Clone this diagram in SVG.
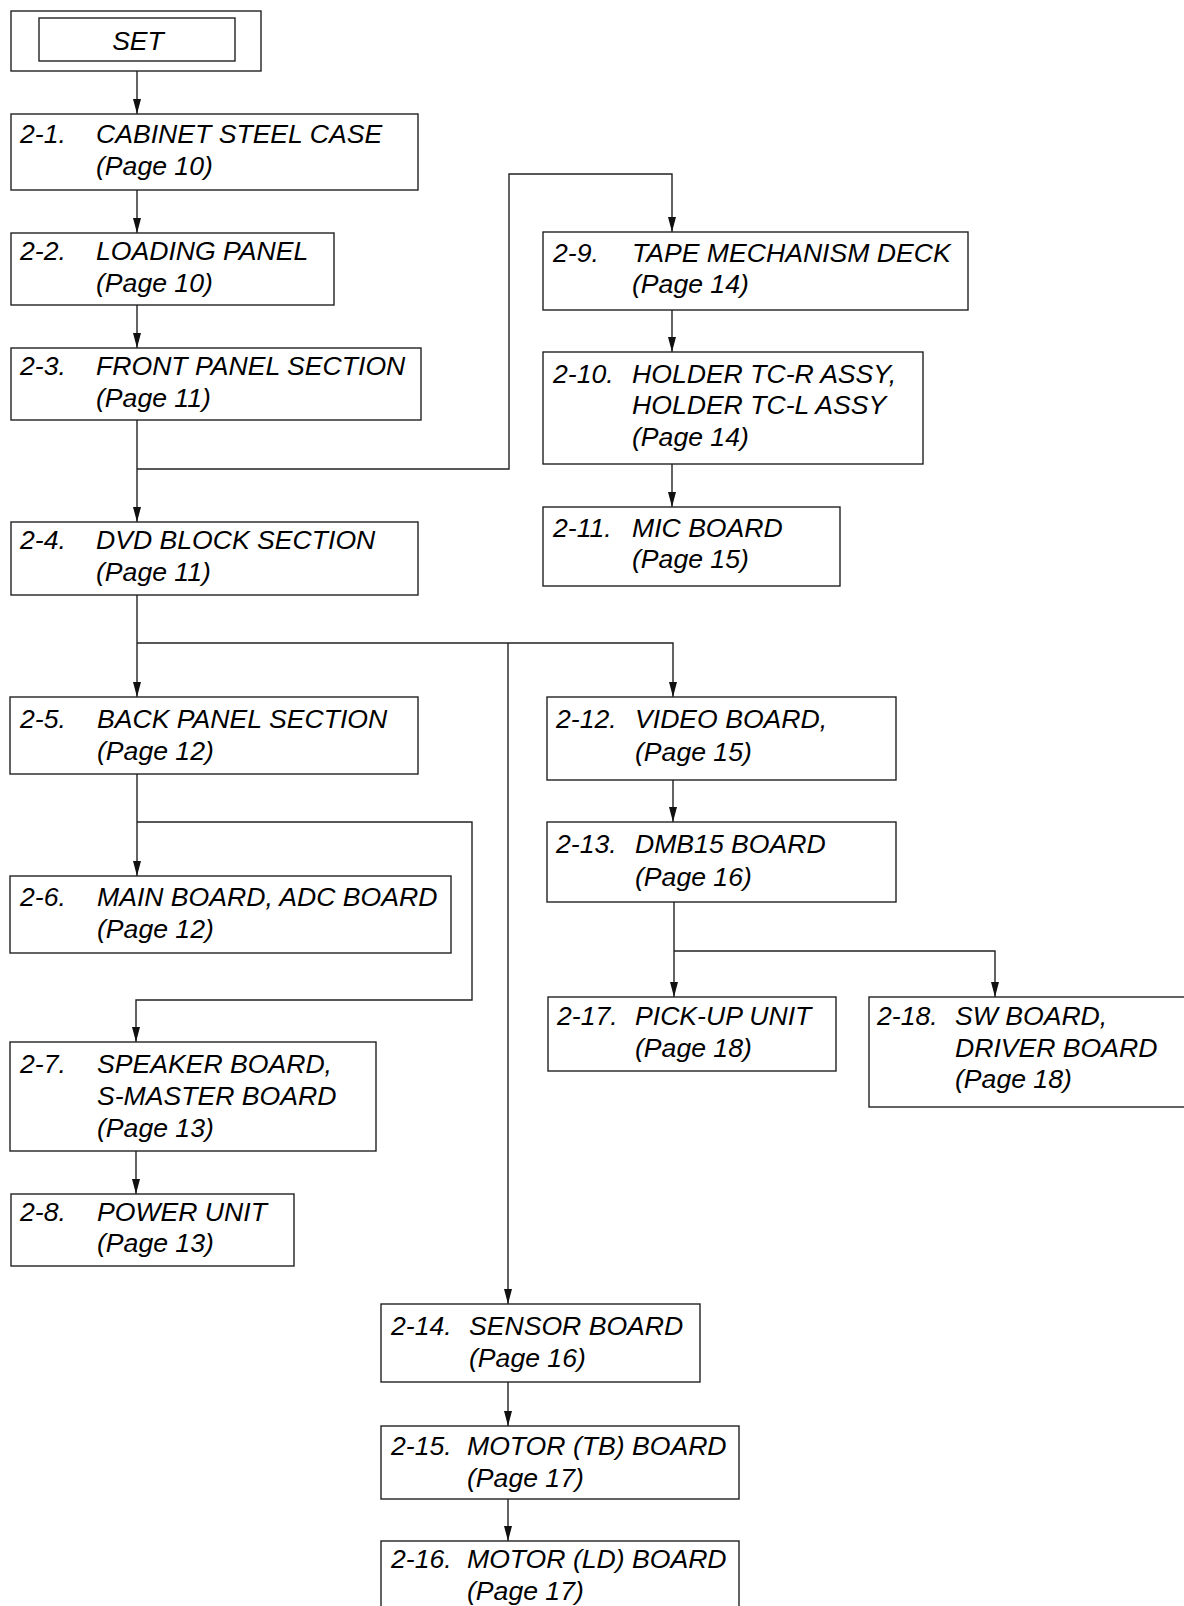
<svg xmlns="http://www.w3.org/2000/svg" width="1184" height="1606" viewBox="0 0 1184 1606">
<style>
  .box{fill:#fff;stroke:#222;stroke-width:1.4}
  .t{font-family:"Liberation Sans",Arial,sans-serif;font-style:italic;font-size:26.6px;fill:#000}
  .c{fill:none;stroke:#222;stroke-width:1.4}
</style>
<defs>
  <marker id="ah" markerUnits="userSpaceOnUse" markerWidth="15" markerHeight="8" refX="15" refY="4" orient="auto">
    <path d="M0,0 L15,4 L0,8 z" fill="#111"/>
  </marker>
</defs>
<rect width="1184" height="1606" fill="#fff"/>
<g id="connectors">
  <path class="c" d="M137,71 V114" marker-end="url(#ah)"/>
  <path class="c" d="M137,190 V233" marker-end="url(#ah)"/>
  <path class="c" d="M137,305 V348" marker-end="url(#ah)"/>
  <path class="c" d="M137,420 V522" marker-end="url(#ah)"/>
  <path class="c" d="M137,469 H509 V174 H672 V232" marker-end="url(#ah)"/>
  <path class="c" d="M672,310 V352" marker-end="url(#ah)"/>
  <path class="c" d="M672,464 V507" marker-end="url(#ah)"/>
  <path class="c" d="M137,595 V697" marker-end="url(#ah)"/>
  <path class="c" d="M137,643 H673 V697" marker-end="url(#ah)"/>
  <path class="c" d="M508,643 V1304" marker-end="url(#ah)"/>
  <path class="c" d="M137,774 V876" marker-end="url(#ah)"/>
  <path class="c" d="M137,822 H472 V1000 H136 V1042" marker-end="url(#ah)"/>
  <path class="c" d="M136,1151 V1194" marker-end="url(#ah)"/>
  <path class="c" d="M673,780 V822" marker-end="url(#ah)"/>
  <path class="c" d="M674,902 V997" marker-end="url(#ah)"/>
  <path class="c" d="M674,951 H995 V997" marker-end="url(#ah)"/>
  <path class="c" d="M508,1382 V1426" marker-end="url(#ah)"/>
  <path class="c" d="M508,1499 V1541" marker-end="url(#ah)"/>
</g>
<g id="set">
  <rect class="box" x="11" y="11" width="250" height="60"/>
  <rect class="box" x="39" y="18" width="196" height="43"/>
  <text class="t" x="138" y="50" text-anchor="middle">SET</text>
</g>
<g id="n2-1">
  <rect class="box" x="11" y="114" width="407" height="76"/>
  <text class="t" x="20" y="143">2-1.</text>
  <text class="t" x="96" y="143">CABINET STEEL CASE</text>
  <text class="t" x="96" y="175">(Page 10)</text>
</g>
<g id="n2-2">
  <rect class="box" x="11" y="233" width="323" height="72"/>
  <text class="t" x="20" y="260">2-2.</text>
  <text class="t" x="96" y="260">LOADING PANEL</text>
  <text class="t" x="96" y="292">(Page 10)</text>
</g>
<g id="n2-3">
  <rect class="box" x="11" y="348" width="410" height="72"/>
  <text class="t" x="20" y="375">2-3.</text>
  <text class="t" x="96" y="375">FRONT PANEL SECTION</text>
  <text class="t" x="96" y="407">(Page 11)</text>
</g>
<g id="n2-4">
  <rect class="box" x="11" y="522" width="407" height="73"/>
  <text class="t" x="20" y="549">2-4.</text>
  <text class="t" x="96" y="549">DVD BLOCK SECTION</text>
  <text class="t" x="96" y="581">(Page 11)</text>
</g>
<g id="n2-5">
  <rect class="box" x="10" y="697" width="408" height="77"/>
  <text class="t" x="20" y="728">2-5.</text>
  <text class="t" x="97" y="728">BACK PANEL SECTION</text>
  <text class="t" x="97" y="760">(Page 12)</text>
</g>
<g id="n2-6">
  <rect class="box" x="10" y="876" width="441" height="77"/>
  <text class="t" x="20" y="906">2-6.</text>
  <text class="t" x="97" y="906">MAIN BOARD, ADC BOARD</text>
  <text class="t" x="97" y="938">(Page 12)</text>
</g>
<g id="n2-7">
  <rect class="box" x="10" y="1042" width="366" height="109"/>
  <text class="t" x="20" y="1073">2-7.</text>
  <text class="t" x="97" y="1073">SPEAKER BOARD,</text>
  <text class="t" x="97" y="1105">S-MASTER BOARD</text>
  <text class="t" x="97" y="1137">(Page 13)</text>
</g>
<g id="n2-8">
  <rect class="box" x="11" y="1194" width="283" height="72"/>
  <text class="t" x="20" y="1221">2-8.</text>
  <text class="t" x="97" y="1221">POWER UNIT</text>
  <text class="t" x="97" y="1252">(Page 13)</text>
</g>
<g id="n2-9">
  <rect class="box" x="543" y="232" width="425" height="78"/>
  <text class="t" x="553" y="262">2-9.</text>
  <text class="t" x="632" y="262">TAPE MECHANISM DECK</text>
  <text class="t" x="632" y="293">(Page 14)</text>
</g>
<g id="n2-10">
  <rect class="box" x="543" y="352" width="380" height="112"/>
  <text class="t" x="553" y="383">2-10.</text>
  <text class="t" x="632" y="383">HOLDER TC-R ASSY,</text>
  <text class="t" x="632" y="414">HOLDER TC-L ASSY</text>
  <text class="t" x="632" y="446">(Page 14)</text>
</g>
<g id="n2-11">
  <rect class="box" x="543" y="507" width="297" height="79"/>
  <text class="t" x="553" y="537">2-11.</text>
  <text class="t" x="632" y="537">MIC BOARD</text>
  <text class="t" x="632" y="568">(Page 15)</text>
</g>
<g id="n2-12">
  <rect class="box" x="547" y="697" width="349" height="83"/>
  <text class="t" x="556" y="728">2-12.</text>
  <text class="t" x="635" y="728">VIDEO BOARD,</text>
  <text class="t" x="635" y="761">(Page 15)</text>
</g>
<g id="n2-13">
  <rect class="box" x="547" y="822" width="349" height="80"/>
  <text class="t" x="556" y="853">2-13.</text>
  <text class="t" x="635" y="853">DMB15 BOARD</text>
  <text class="t" x="635" y="886">(Page 16)</text>
</g>
<g id="n2-17">
  <rect class="box" x="548" y="997" width="288" height="74"/>
  <text class="t" x="557" y="1025">2-17.</text>
  <text class="t" x="635" y="1025">PICK-UP UNIT</text>
  <text class="t" x="635" y="1057">(Page 18)</text>
</g>
<g id="n2-18">
  <rect class="box" x="869" y="997" width="320" height="110"/>
  <text class="t" x="877" y="1025">2-18.</text>
  <text class="t" x="955" y="1025">SW BOARD,</text>
  <text class="t" x="955" y="1057">DRIVER BOARD</text>
  <text class="t" x="955" y="1088">(Page 18)</text>
</g>
<g id="n2-14">
  <rect class="box" x="381" y="1304" width="319" height="78"/>
  <text class="t" x="391" y="1335">2-14.</text>
  <text class="t" x="469" y="1335">SENSOR BOARD</text>
  <text class="t" x="469" y="1367">(Page 16)</text>
</g>
<g id="n2-15">
  <rect class="box" x="381" y="1426" width="358" height="73"/>
  <text class="t" x="391" y="1455">2-15.</text>
  <text class="t" x="467" y="1455">MOTOR (TB) BOARD</text>
  <text class="t" x="467" y="1487">(Page 17)</text>
</g>
<g id="n2-16">
  <rect class="box" x="381" y="1541" width="358" height="75"/>
  <text class="t" x="391" y="1568">2-16.</text>
  <text class="t" x="467" y="1568">MOTOR (LD) BOARD</text>
  <text class="t" x="467" y="1600">(Page 17)</text>
</g>
</svg>
